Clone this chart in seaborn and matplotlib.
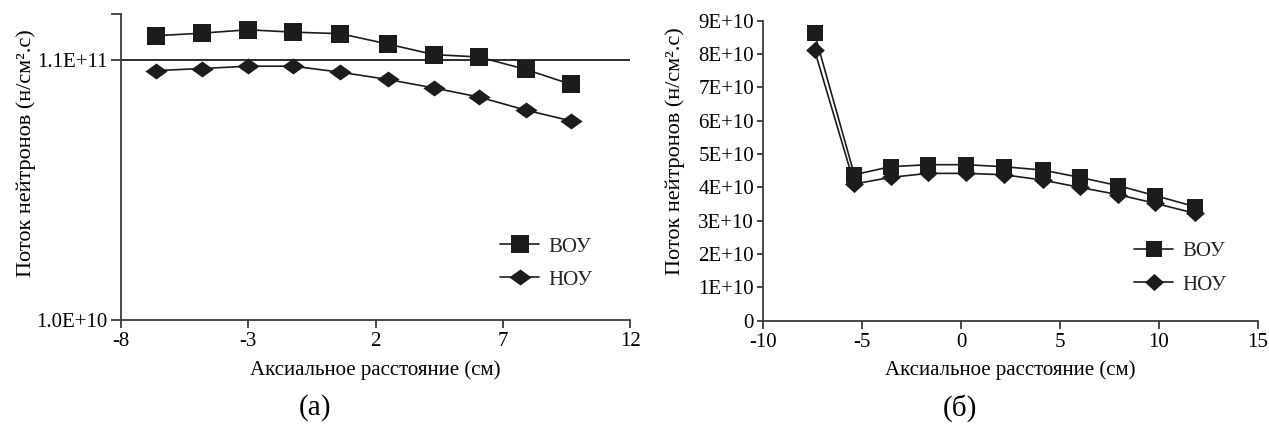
import numpy as np
import pandas as pd
import matplotlib
matplotlib.use("Agg")
import matplotlib.pyplot as plt
import seaborn as sns

# ---------------- data ----------------
# Panel (а): log scale
dist_a = [-6.62, -4.82, -3.02, -1.23, 0.62, 2.47, 4.30, 6.07, 7.91, 9.68]
vou_a = [1.375e11, 1.408e11, 1.452e11, 1.421e11, 1.401e11, 1.274e11, 1.155e11, 1.130e11, 1.007e11, 8.78e10]
nou_a = [9.97e10, 1.016e11, 1.038e11, 1.038e11, 9.82e10, 9.19e10, 8.49e10, 7.81e10, 6.92e10, 6.27e10]

# Panel (б): linear scale
dist_b = [-7.40, -5.39, -3.56, -1.67, 0.26, 2.15, 4.12, 6.00, 7.95, 9.82, 11.83]
vou_b = [8.62e10, 4.38e10, 4.62e10, 4.68e10, 4.68e10, 4.62e10, 4.52e10, 4.30e10, 4.05e10, 3.75e10, 3.42e10]
nou_b = [8.12e10, 4.10e10, 4.30e10, 4.42e10, 4.42e10, 4.38e10, 4.22e10, 4.00e10, 3.78e10, 3.52e10, 3.22e10]

series_names = ["ВОУ", "НОУ"]
xlabel = "Аксиальное расстояние (см)"
ylabel = "Поток нейтронов (н/см².с)"
panel_labels = ["(а)", "(б)"]

xticks_a = [-8, -3, 2, 7, 12]
yticks_a = [1.0e10, 1.1e11, 1.68e11]
yticklabels_a = ["1.0E+10", "1.1E+11", ""]
xticks_b = [-10, -5, 0, 5, 10, 15]
yticks_b = [0, 1e10, 2e10, 3e10, 4e10, 5e10, 6e10, 7e10, 8e10, 9e10]
yticklabels_b = ["0", "1E+10", "2E+10", "3E+10", "4E+10", "5E+10", "6E+10", "7E+10", "8E+10", "9E+10"]

# ---------------- style ----------------
sns.set_theme(style="white")
plt.rcParams["font.family"] = ["Liberation Serif", "DejaVu Serif"]
FS = 15
INK = "#1c1c1c"
AX = "#3a3a3a"

fig = plt.figure(figsize=(12.69, 4.25), dpi=100)
ax1 = fig.add_axes([0.0954, 0.2471, 0.4011, 0.7200])
ax2 = fig.add_axes([0.6013, 0.2454, 0.3900, 0.7059])

diam_a = [(-1, 0), (0, 0.72), (1, 0), (0, -0.72), (-1, 0)]
diam_b = [(-1, 0), (0, 0.92), (1, 0), (0, -0.92), (-1, 0)]

df_a = pd.DataFrame({"x": dist_a * 2, "y": vou_a + nou_a,
                     "s": [series_names[0]] * len(dist_a) + [series_names[1]] * len(dist_a)})
df_b = pd.DataFrame({"x": dist_b * 2, "y": vou_b + nou_b,
                     "s": [series_names[0]] * len(dist_b) + [series_names[1]] * len(dist_b)})

def draw(ax, df, sq_size, dm_size, diam):
    for name, mk, ms in [(series_names[0], "s", sq_size), (series_names[1], diam, dm_size)]:
        d = df[df["s"] == name]
        sns.lineplot(data=d, x="x", y="y", ax=ax, color=INK, lw=1.2,
                     marker=mk, markersize=ms, markeredgewidth=0,
                     markerfacecolor=INK, label=name)

draw(ax1, df_a, 13, 16, diam_a)
draw(ax2, df_b, 11.5, 13.5, diam_b)

# panel (а)
ax1.set_yscale("log")
ax1.set_ylim(1.0e10, 1.68e11)
ax1.set_xlim(-8, 12)
ax1.set_xticks(xticks_a)
ax1.set_xticklabels([str(v) for v in xticks_a])
ax1.set_yticks(yticks_a)
ax1.set_yticklabels(yticklabels_a)
ax1.minorticks_off()
ax1.axhline(1.1e11, color=INK, lw=1.3, zorder=1)
ax1.tick_params(axis="y", length=7.5, pad=2)
ax1.tick_params(axis="x", length=6, pad=3)

# panel (б)
ax2.set_ylim(0, 9e10)
ax2.set_xlim(-10, 15)
ax2.set_xticks(xticks_b)
ax2.set_xticklabels([str(v) for v in xticks_b])
ax2.set_yticks(yticks_b)
ax2.set_yticklabels(yticklabels_b)
ax2.tick_params(axis="y", length=4.5, pad=2)
ax2.tick_params(axis="x", length=6, pad=3)

for ax, lblx, lbly, legx, legy, plx in [
        (ax1, -0.168, 0.545, 0.745, 0.185, 315),
        (ax2, -0.158, 0.565, 0.75, 0.175, 960)]:
    for sp in ["top", "right"]:
        ax.spines[sp].set_visible(False)
    for sp in ["left", "bottom"]:
        ax.spines[sp].set_color(AX)
        ax.spines[sp].set_linewidth(1.3)
    ax.tick_params(direction="out", width=1.3, color=AX, labelsize=FS,
                   labelcolor="black", left=True, bottom=True)
    ax.set_xlabel(xlabel, fontsize=FS, color="black", labelpad=6)
    ax.set_ylabel(ylabel, fontsize=16, color="black")
    ax.yaxis.set_label_coords(lblx, lbly)
    ax.grid(False)
    ax.legend(loc="center left", bbox_to_anchor=(legx, legy), frameon=False,
              fontsize=FS, handlelength=1.85, handletextpad=0.45,
              borderaxespad=0, borderpad=0, labelspacing=0.65)
    fig.text(plx / 1269, 1 - 408 / 425, panel_labels[0 if ax is ax1 else 1],
             fontsize=21, ha="center", va="center", color="black")

fig.savefig("out.png", dpi=100)
